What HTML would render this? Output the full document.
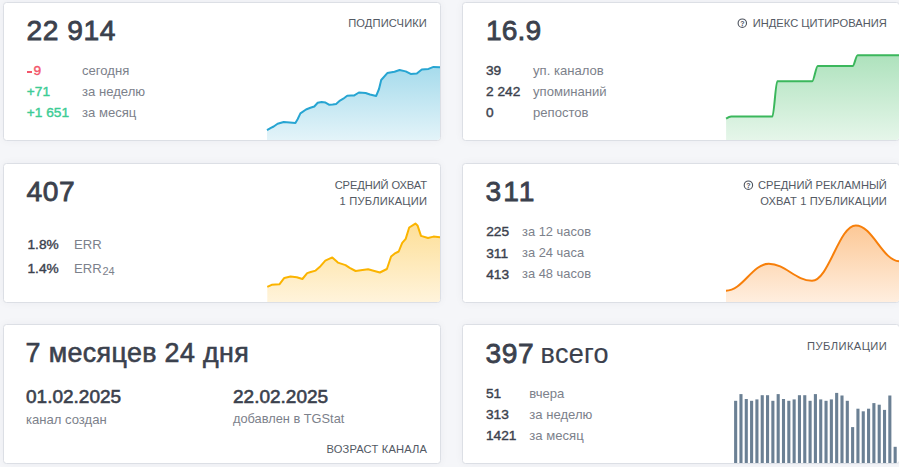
<!DOCTYPE html>
<html><head><meta charset="utf-8">
<style>
html,body{margin:0;padding:0;}
body{width:899px;height:467px;overflow:hidden;background:#f5f6f9;font-family:"Liberation Sans",sans-serif;position:relative;}
.card{position:absolute;background:#fff;border:1px solid #dcdfe5;border-radius:3.5px;box-sizing:border-box;box-shadow:0 0 8px rgba(30,40,70,0.045);}
.t{position:absolute;white-space:nowrap;line-height:1;}
.big{letter-spacing:0.55px;font-size:29.5px;font-weight:400;color:#3b414d;-webkit-text-stroke:0.8px #3b414d;}
.lbl{font-size:11px;color:#535963;}
.num{font-size:14px;font-weight:400;color:#3b414d;-webkit-text-stroke:0.4px #3b414d;}
.txt{font-size:13px;color:#7c818b;}
.red{color:#f3566b;-webkit-text-stroke-color:#f3566b;}
.grn{color:#3dcc95;-webkit-text-stroke-color:#3dcc95;}
svg{position:absolute;left:0;top:0;}
</style></head><body>
<div class="card" style="left:3px;top:2px;width:438px;height:139px;"></div>
<div class="card" style="left:462px;top:2px;width:438px;height:139px;"></div>
<div class="card" style="left:3px;top:163px;width:438px;height:140px;"></div>
<div class="card" style="left:462px;top:163px;width:438px;height:140px;"></div>
<div class="card" style="left:3px;top:324px;width:438px;height:140px;"></div>
<div class="card" style="left:462px;top:324px;width:438px;height:140px;"></div>
<svg width="899" height="467" viewBox="0 0 899 467">
<defs>
<linearGradient id="g1" x1="0" y1="0" x2="0" y2="1"><stop offset="0" stop-color="#a6dbec"/><stop offset="1" stop-color="#e4f4f9"/></linearGradient>
<linearGradient id="g2" x1="0" y1="0" x2="0" y2="1"><stop offset="0" stop-color="#aee2bd"/><stop offset="1" stop-color="#e6f6ea"/></linearGradient>
<linearGradient id="g3" x1="0" y1="0" x2="0" y2="1"><stop offset="0" stop-color="#fddf98"/><stop offset="1" stop-color="#fff4dc"/></linearGradient>
<linearGradient id="g4" x1="0" y1="0" x2="0" y2="1"><stop offset="0" stop-color="#fcc896"/><stop offset="1" stop-color="#ffefe0"/></linearGradient>
<clipPath id="k1"><rect x="4" y="3" width="436" height="137" rx="3"/></clipPath>
<clipPath id="k2"><rect x="463" y="3" width="436" height="137" rx="3"/></clipPath>
<clipPath id="k3"><rect x="4" y="164" width="436" height="138" rx="3"/></clipPath>
<clipPath id="k4"><rect x="463" y="164" width="436" height="138" rx="3"/></clipPath>
<clipPath id="k6"><rect x="463" y="325" width="436" height="138" rx="3"/></clipPath>
</defs>
<g clip-path="url(#k1)"><path d="M267.0,130.1 L270.9,127.9 L273.7,126.5 L277.6,123.7 L283.7,122.0 L289.8,122.5 L295.4,122.9 L297.6,119.2 L300.4,113.4 L306.0,109.5 L310.4,107.8 L314.3,106.5 L317.7,102.8 L321.6,102.0 L325.5,102.6 L329.4,104.8 L332.7,104.5 L336.1,103.9 L340.0,100.6 L343.3,98.7 L347.2,95.8 L351.1,95.6 L353.9,95.6 L358.9,92.5 L365.6,93.0 L370.0,94.5 L376.2,95.9 L379.0,89.0 L381.2,80.0 L387.3,73.1 L394.5,71.7 L399.6,70.0 L405.7,71.4 L410.7,73.9 L416.8,73.6 L421.8,69.5 L428.5,68.9 L433.5,66.9 L441.0,67.2 L441.0,141 L267.0,141 Z" fill="url(#g1)"/><path d="M267.0,130.1 L270.9,127.9 L273.7,126.5 L277.6,123.7 L283.7,122.0 L289.8,122.5 L295.4,122.9 L297.6,119.2 L300.4,113.4 L306.0,109.5 L310.4,107.8 L314.3,106.5 L317.7,102.8 L321.6,102.0 L325.5,102.6 L329.4,104.8 L332.7,104.5 L336.1,103.9 L340.0,100.6 L343.3,98.7 L347.2,95.8 L351.1,95.6 L353.9,95.6 L358.9,92.5 L365.6,93.0 L370.0,94.5 L376.2,95.9 L379.0,89.0 L381.2,80.0 L387.3,73.1 L394.5,71.7 L399.6,70.0 L405.7,71.4 L410.7,73.9 L416.8,73.6 L421.8,69.5 L428.5,68.9 L433.5,66.9 L441.0,67.2" fill="none" stroke="#27a5d2" stroke-width="2" stroke-linejoin="round" stroke-linecap="butt"/></g>
<g clip-path="url(#k2)"><path d="M726.10,118.70 C727.80,117.60 729.50,116.50 731.20,116.50 C744.93,116.50 758.67,116.50 772.40,116.50 C774.03,116.50 775.67,81.20 777.30,81.20 C788.93,81.20 800.57,81.20 812.20,81.20 C814.07,81.20 815.93,65.90 817.80,65.90 C829.43,65.90 841.07,65.90 852.70,65.90 C854.33,65.90 855.97,55.30 857.60,55.30 C872.07,55.30 886.53,55.30 901.00,55.30 L901.0,141 L726.1,141 Z" fill="url(#g2)"/><path d="M726.10,118.70 C727.80,117.60 729.50,116.50 731.20,116.50 C744.93,116.50 758.67,116.50 772.40,116.50 C774.03,116.50 775.67,81.20 777.30,81.20 C788.93,81.20 800.57,81.20 812.20,81.20 C814.07,81.20 815.93,65.90 817.80,65.90 C829.43,65.90 841.07,65.90 852.70,65.90 C854.33,65.90 855.97,55.30 857.60,55.30 C872.07,55.30 886.53,55.30 901.00,55.30" fill="none" stroke="#3bb75c" stroke-width="2" stroke-linejoin="round" stroke-linecap="butt"/></g>
<g clip-path="url(#k3)"><path d="M267.3,286.9 L271.7,284.8 L279.4,284.3 L284.3,277.9 L290.5,276.5 L296.8,277.3 L302.4,279.0 L307.2,273.1 L310.7,272.0 L315.6,270.6 L320.5,266.2 L325.3,260.6 L332.3,257.4 L337.9,262.6 L345.5,265.1 L349.7,267.8 L355.6,271.0 L362.5,270.0 L368.1,269.3 L374.4,271.0 L379.9,272.5 L386.9,269.0 L391.1,256.5 L394.5,253.7 L398.7,251.5 L402.2,242.8 L405.7,238.9 L409.2,227.5 L415.4,223.6 L417.5,225.4 L421.0,235.9 L428.0,238.0 L433.5,236.6 L441.0,237.3 L441.0,303 L267.3,303 Z" fill="url(#g3)"/><path d="M267.3,286.9 L271.7,284.8 L279.4,284.3 L284.3,277.9 L290.5,276.5 L296.8,277.3 L302.4,279.0 L307.2,273.1 L310.7,272.0 L315.6,270.6 L320.5,266.2 L325.3,260.6 L332.3,257.4 L337.9,262.6 L345.5,265.1 L349.7,267.8 L355.6,271.0 L362.5,270.0 L368.1,269.3 L374.4,271.0 L379.9,272.5 L386.9,269.0 L391.1,256.5 L394.5,253.7 L398.7,251.5 L402.2,242.8 L405.7,238.9 L409.2,227.5 L415.4,223.6 L417.5,225.4 L421.0,235.9 L428.0,238.0 L433.5,236.6 L441.0,237.3" fill="none" stroke="#fbb400" stroke-width="2" stroke-linejoin="round" stroke-linecap="butt"/></g>
<g clip-path="url(#k4)"><path d="M726.0,290.7 C742.5,290.7 752.3,263.8 768.8,263.8 C785.4,263.8 795.4,280.7 812.0,280.7 C828.8,280.7 839.0,225.4 855.8,225.4 C872.6,225.4 882.7,261.2 899.5,261.2 L899.5,303 L726.0,303 Z" fill="url(#g4)"/><path d="M726.0,290.7 C742.5,290.7 752.3,263.8 768.8,263.8 C785.4,263.8 795.4,280.7 812.0,280.7 C828.8,280.7 839.0,225.4 855.8,225.4 C872.6,225.4 882.7,261.2 899.5,261.2" fill="none" stroke="#f77f0a" stroke-width="2" stroke-linejoin="round" stroke-linecap="butt"/></g>
<g clip-path="url(#k6)"><rect x="734.10" y="400.8" width="3.1" height="62.2" fill="#6b8094"/><rect x="739.42" y="394.1" width="3.1" height="68.9" fill="#6b8094"/><rect x="744.73" y="399.0" width="3.1" height="64.0" fill="#6b8094"/><rect x="750.05" y="400.8" width="3.1" height="62.2" fill="#6b8094"/><rect x="755.37" y="399.4" width="3.1" height="63.6" fill="#6b8094"/><rect x="760.69" y="395.2" width="3.1" height="67.8" fill="#6b8094"/><rect x="766.00" y="395.2" width="3.1" height="67.8" fill="#6b8094"/><rect x="771.32" y="400.8" width="3.1" height="62.2" fill="#6b8094"/><rect x="776.64" y="394.1" width="3.1" height="68.9" fill="#6b8094"/><rect x="781.95" y="399.0" width="3.1" height="64.0" fill="#6b8094"/><rect x="787.27" y="400.8" width="3.1" height="62.2" fill="#6b8094"/><rect x="792.59" y="399.4" width="3.1" height="63.6" fill="#6b8094"/><rect x="797.90" y="395.2" width="3.1" height="67.8" fill="#6b8094"/><rect x="803.22" y="395.2" width="3.1" height="67.8" fill="#6b8094"/><rect x="808.54" y="400.8" width="3.1" height="62.2" fill="#6b8094"/><rect x="813.86" y="394.1" width="3.1" height="68.9" fill="#6b8094"/><rect x="819.17" y="399.4" width="3.1" height="63.6" fill="#6b8094"/><rect x="824.49" y="400.8" width="3.1" height="62.2" fill="#6b8094"/><rect x="829.81" y="399.4" width="3.1" height="63.6" fill="#6b8094"/><rect x="835.12" y="392.9" width="3.1" height="70.1" fill="#6b8094"/><rect x="840.44" y="395.5" width="3.1" height="67.5" fill="#6b8094"/><rect x="845.76" y="400.8" width="3.1" height="62.2" fill="#6b8094"/><rect x="851.07" y="427.1" width="3.1" height="35.9" fill="#6b8094"/><rect x="856.39" y="408.7" width="3.1" height="54.3" fill="#6b8094"/><rect x="861.71" y="411.3" width="3.1" height="51.7" fill="#6b8094"/><rect x="867.03" y="408.7" width="3.1" height="54.3" fill="#6b8094"/><rect x="872.34" y="403.1" width="3.1" height="59.9" fill="#6b8094"/><rect x="877.66" y="404.7" width="3.1" height="58.3" fill="#6b8094"/><rect x="882.98" y="409.9" width="3.1" height="53.1" fill="#6b8094"/><rect x="888.29" y="395.5" width="3.1" height="67.5" fill="#6b8094"/><rect x="893.61" y="446.8" width="3.1" height="16.2" fill="#6b8094"/></g>
<circle cx="742.3" cy="23.2" r="4.2" fill="none" stroke="#4a505b" stroke-width="1.1"/><text x="742.3" y="25.8" font-size="7" font-weight="700" text-anchor="middle" fill="#4a505b" font-family="Liberation Sans">?</text>
<circle cx="748.4" cy="185.2" r="4.2" fill="none" stroke="#4a505b" stroke-width="1.1"/><text x="748.4" y="187.79999999999998" font-size="7" font-weight="700" text-anchor="middle" fill="#4a505b" font-family="Liberation Sans">?</text>
</svg>
<div class="t big" style="left:26.50px;top:16.13px;font-size:28.2px;">22&nbsp;914</div>
<div class="t lbl" style="right:472.00px;top:17.56px;font-size:11.15px;letter-spacing:0.12px">ПОДПИСЧИКИ</div>
<div class="t num red" style="left:26.80px;top:64.00px;font-size:13.7px;"><span style="display:inline-block;width:4.8px;height:1.8px;background:#f3566b;vertical-align:2.2px;margin-right:1.3px;margin-left:0.6px"></span>9</div>
<div class="t txt" style="left:82.00px;top:63.91px;font-size:13.1px;">сегодня</div>
<div class="t num grn" style="left:26.80px;top:85.00px;font-size:13.7px;">+71</div>
<div class="t txt" style="left:82.00px;top:85.41px;font-size:13.1px;">за неделю</div>
<div class="t num grn" style="left:26.80px;top:106.00px;font-size:13.7px;">+1&nbsp;651</div>
<div class="t txt" style="left:82.00px;top:106.41px;font-size:13.1px;">за месяц</div>
<div class="t big" style="left:486.00px;top:16.13px;font-size:28.2px;letter-spacing:0.1px">16.9</div>
<div class="t lbl" style="right:12.20px;top:17.56px;font-size:11.15px;">ИНДЕКС ЦИТИРОВАНИЯ</div>
<div class="t num" style="left:486.00px;top:64.00px;font-size:13.7px;">39</div>
<div class="t txt" style="left:533.00px;top:63.91px;font-size:13.1px;">уп. каналов</div>
<div class="t num" style="left:486.00px;top:85.00px;font-size:13.7px;">2&nbsp;242</div>
<div class="t txt" style="left:533.00px;top:85.41px;font-size:13.1px;">упоминаний</div>
<div class="t num" style="left:486.00px;top:106.00px;font-size:13.7px;">0</div>
<div class="t txt" style="left:533.00px;top:106.41px;font-size:13.1px;">репостов</div>
<div class="t big" style="left:26.50px;top:177.13px;font-size:28.2px;">407</div>
<div class="t lbl" style="right:472.00px;top:179.56px;font-size:11.15px;letter-spacing:-0.1px">СРЕДНИЙ ОХВАТ</div>
<div class="t lbl" style="right:471.80px;top:195.56px;font-size:11.15px;letter-spacing:0.2px">1 ПУБЛИКАЦИИ</div>
<div class="t num" style="left:27.50px;top:238.00px;font-size:13.7px;">1.8%</div>
<div class="t txt" style="left:74.00px;top:237.91px;font-size:13.1px;">ERR</div>
<div class="t num" style="left:27.50px;top:262.00px;font-size:13.7px;">1.4%</div>
<div class="t txt" style="left:74.00px;top:261.91px;font-size:13.1px;">ERR<span style="font-size:11px;position:relative;top:2px;margin-left:0.8px">24</span></div>
<div class="t big" style="left:485.50px;top:177.13px;font-size:28.2px;letter-spacing:2px">311</div>
<div class="t lbl" style="right:12.20px;top:180.06px;font-size:11.15px;">СРЕДНИЙ РЕКЛАМНЫЙ</div>
<div class="t lbl" style="right:12.00px;top:196.06px;font-size:11.15px;letter-spacing:0.14px">ОХВАТ 1 ПУБЛИКАЦИИ</div>
<div class="t num" style="left:486.20px;top:224.70px;font-size:13.7px;">225</div>
<div class="t txt" style="left:522.00px;top:225.58px;font-size:12.9px;">за 12 часов</div>
<div class="t num" style="left:486.20px;top:246.50px;font-size:13.7px;">311</div>
<div class="t txt" style="left:522.00px;top:247.38px;font-size:12.9px;">за 24 часа</div>
<div class="t num" style="left:486.20px;top:267.60px;font-size:13.7px;">413</div>
<div class="t txt" style="left:522.00px;top:268.48px;font-size:12.9px;">за 48 часов</div>
<div class="t big" style="left:25.60px;top:339.91px;font-size:26.8px;letter-spacing:0.38px;-webkit-text-stroke-width:0.6px">7 месяцев 24 дня</div>
<div class="t num" style="left:26.00px;top:386.92px;font-size:19px;-webkit-text-stroke-width:0.6px">01.02.2025</div>
<div class="t txt" style="left:25.90px;top:412.91px;font-size:13.1px;">канал создан</div>
<div class="t num" style="left:233.00px;top:386.92px;font-size:19px;-webkit-text-stroke-width:0.6px">22.02.2025</div>
<div class="t txt" style="left:233.00px;top:413.16px;font-size:12.8px;">добавлен в TGStat</div>
<div class="t lbl" style="right:471.80px;top:443.56px;font-size:11.15px;letter-spacing:0.18px">ВОЗРАСТ КАНАЛА</div>
<div class="t big" style="left:485.50px;top:339.43px;font-size:28.2px;">397 <span style="-webkit-text-stroke-width:0.15px;font-size:27px;margin-left:-2px;letter-spacing:0.3px">всего</span></div>
<div class="t lbl" style="right:11.80px;top:340.56px;font-size:11.15px;letter-spacing:0.42px">ПУБЛИКАЦИИ</div>
<div class="t num" style="left:486.00px;top:386.50px;font-size:13.7px;">51</div>
<div class="t txt" style="left:529.30px;top:387.21px;font-size:13.1px;">вчера</div>
<div class="t num" style="left:486.00px;top:407.50px;font-size:13.7px;">313</div>
<div class="t txt" style="left:529.30px;top:408.21px;font-size:13.1px;">за неделю</div>
<div class="t num" style="left:486.00px;top:428.50px;font-size:13.7px;">1421</div>
<div class="t txt" style="left:529.30px;top:429.21px;font-size:13.1px;">за месяц</div>
</body></html>
